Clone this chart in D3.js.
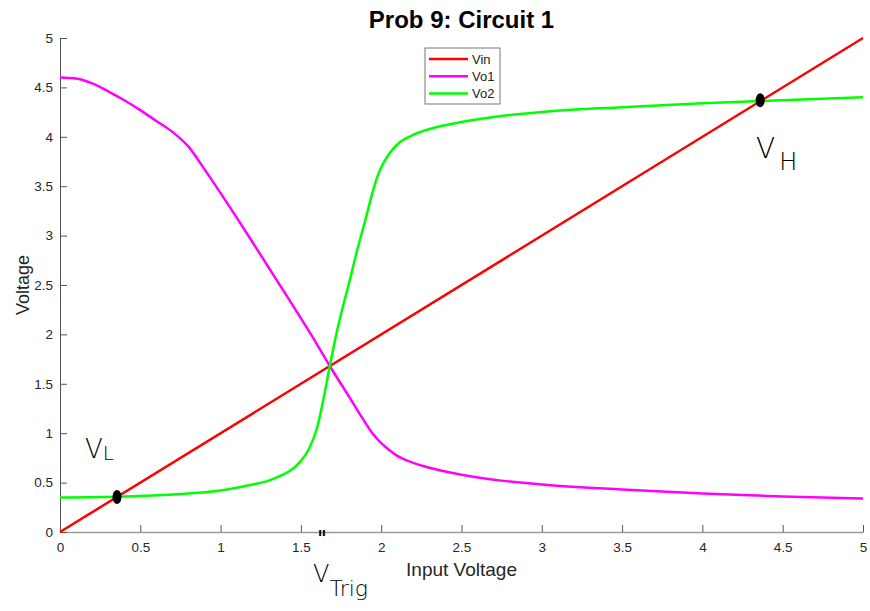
<!DOCTYPE html>
<html>
<head>
<meta charset="utf-8">
<script src="https://cdn.jsdelivr.net/npm/d3@7"></script>
<style>
  body { margin: 0; background: #fff; }
  svg { font-family: "Liberation Sans", Arial, Helvetica, sans-serif; }
</style>
</head>
<body>
<svg id="chart" width="870" height="611"></svg>
<script>
// series
var vinX = [0, 5];
var vinY = [0, 5];

var vo1X = [0, 0.1, 0.2, 0.3, 0.4, 0.5, 0.6, 0.7, 0.8, 0.9, 1.0, 1.2, 1.4, 1.6, 1.68, 1.8, 1.88, 1.95, 2.0, 2.05, 2.1, 2.2, 2.35, 2.5, 2.75, 3.0, 3.5, 4.0, 4.5, 5.0];
var vo1Y = [4.6, 4.59, 4.54, 4.46, 4.37, 4.27, 4.16, 4.05, 3.9, 3.67, 3.43, 2.93, 2.42, 1.9, 1.68, 1.37, 1.16, 0.99, 0.9, 0.83, 0.77, 0.7, 0.63, 0.58, 0.52, 0.48, 0.43, 0.39, 0.36, 0.34];

var vo2X = [0, 0.4, 0.8, 1.0, 1.2, 1.3, 1.4, 1.45, 1.5, 1.55, 1.6, 1.64, 1.68, 1.72, 1.76, 1.8, 1.85, 1.9, 1.94, 1.97, 2.0, 2.03, 2.07, 2.12, 2.2, 2.35, 2.5, 2.75, 3.0, 3.5, 4.0, 4.5, 5.0];
var vo2Y = [0.35, 0.36, 0.39, 0.42, 0.48, 0.52, 0.59, 0.64, 0.72, 0.84, 1.05, 1.34, 1.68, 2.0, 2.27, 2.52, 2.85, 3.15, 3.4, 3.57, 3.69, 3.78, 3.87, 3.95, 4.02, 4.1, 4.15, 4.21, 4.25, 4.3, 4.34, 4.37, 4.4];

var seriesNames = ["Vin", "Vo1", "Vo2"];
var seriesColors = ["#ff0000", "#ff00ff", "#00ff00"];

var xTicks = [0, 0.5, 1, 1.5, 2, 2.5, 3, 3.5, 4, 4.5, 5];
var yTicks = [0, 0.5, 1, 1.5, 2, 2.5, 3, 3.5, 4, 4.5, 5];

// hand-drawn marks: the two crossing points (x, y in data units)
var markX = [0.355, 4.36];
var markY = [0.355, 4.37];

var svg = d3.select("#chart");
var margin = {left: 60, right: 7, top: 38, bottom: 79};
var width = 870, height = 611;

var x = d3.scaleLinear().domain([0, 5]).range([margin.left, width - margin.right]);
var y = d3.scaleLinear().domain([0, 5]).range([height - margin.bottom, margin.top]);

var line = d3.line()
    .x(d => x(d[0]))
    .y(d => y(d[1]))
    .curve(d3.curveMonotoneX);

var zip = (a, b) => a.map((v, i) => [v, b[i]]);
var series = [zip(vinX, vinY), zip(vo1X, vo1Y), zip(vo2X, vo2Y)];

// axes (ticks point inward like matlab)
var xAxis = svg.append("g")
    .attr("transform", "translate(0," + y(0) + ")")
    .call(d3.axisBottom(x).tickValues(xTicks).tickFormat(d3.format("")).tickSizeInner(-7).tickSizeOuter(0).tickPadding(10));
xAxis.select(".domain").attr("stroke", "#9a9a9a").attr("stroke-width", 1.5);
xAxis.selectAll(".tick line").attr("stroke", "#555");
xAxis.selectAll("text").style("font-size", "13.5px").attr("fill", "#262626");

var yAxis = svg.append("g")
    .attr("transform", "translate(" + x(0) + ",0)")
    .call(d3.axisLeft(y).tickValues(yTicks).tickFormat(d3.format("")).tickSizeInner(-7).tickSizeOuter(0).tickPadding(7));
yAxis.select(".domain").attr("stroke", "#555");
yAxis.selectAll(".tick line").attr("stroke", "#555");
yAxis.selectAll("text").style("font-size", "13.5px").attr("fill", "#262626");

// lines
svg.append("g").selectAll("path")
    .data(series)
    .enter().append("path")
    .attr("d", line)
    .attr("fill", "none")
    .attr("stroke", (d, i) => seriesColors[i])
    .attr("stroke-width", 2.5);

// title and labels
svg.append("text")
    .attr("x", (x(0) + x(5)) / 2)
    .attr("y", 28)
    .attr("text-anchor", "middle")
    .style("font-size", "24px")
    .style("font-weight", "bold")
    .text("Prob 9: Circuit 1");

svg.append("text")
    .attr("x", (x(0) + x(5)) / 2)
    .attr("y", 576)
    .attr("text-anchor", "middle")
    .style("font-size", "19px")
    .attr("fill", "#262626")
    .text("Input Voltage");

svg.append("text")
    .attr("transform", "translate(29," + (y(0) + y(5)) / 2 + ") rotate(-90)")
    .attr("text-anchor", "middle")
    .style("font-size", "18px")
    .attr("fill", "#262626")
    .text("Voltage");

// legend
var lg = svg.append("g").attr("transform", "translate(425,48)");
lg.append("rect")
    .attr("width", 75).attr("height", 56)
    .attr("fill", "#fff").attr("stroke", "#777");
seriesNames.forEach(function (name, i) {
    var yy = 11 + i * 17.3;
    lg.append("line")
        .attr("x1", 4).attr("x2", 43)
        .attr("y1", yy).attr("y2", yy)
        .attr("stroke", seriesColors[i]).attr("stroke-width", 2.5);
    lg.append("text")
        .attr("x", 47).attr("y", yy)
        .attr("dy", "0.35em")
        .style("font-size", "13px")
        .attr("fill", "#222")
        .text(name);
});

// hand-written annotations
svg.selectAll(".mark")
    .data(markX)
    .enter().append("ellipse")
    .attr("class", "mark")
    .attr("cx", (d, i) => x(d))
    .attr("cy", (d, i) => y(markY[i]))
    .attr("rx", 4.5).attr("ry", 7)
    .attr("fill", "#000");

var hand = svg.append("g")
    .style("font-family", "'DejaVu Sans', sans-serif")
    .style("font-weight", "200")
    .attr("fill", "#000");

var vl = hand.append("text").attr("x", 85).attr("y", 458).style("font-size", "26px");
vl.append("tspan").text("V");
vl.append("tspan").attr("dy", 2).style("font-size", "20px").text("L");

var vh = hand.append("text").attr("x", 756).attr("y", 158).style("font-size", "28px");
vh.append("tspan").text("V");
vh.append("tspan").attr("dx", 4).attr("dy", 12).style("font-size", "24px").text("H");

var vt = hand.append("text").attr("x", 313).attr("y", 582).style("font-size", "24px");
vt.append("tspan").text("V");
vt.append("tspan").attr("dy", 14).style("font-size", "22px").text("Trig");

hand.append("text")
    .attr("x", 322).attr("y", 536)
    .attr("text-anchor", "middle")
    .style("font-size", "11px")
    .style("font-weight", "bold")
    .text("ıı");
</script>
</body>
</html>
